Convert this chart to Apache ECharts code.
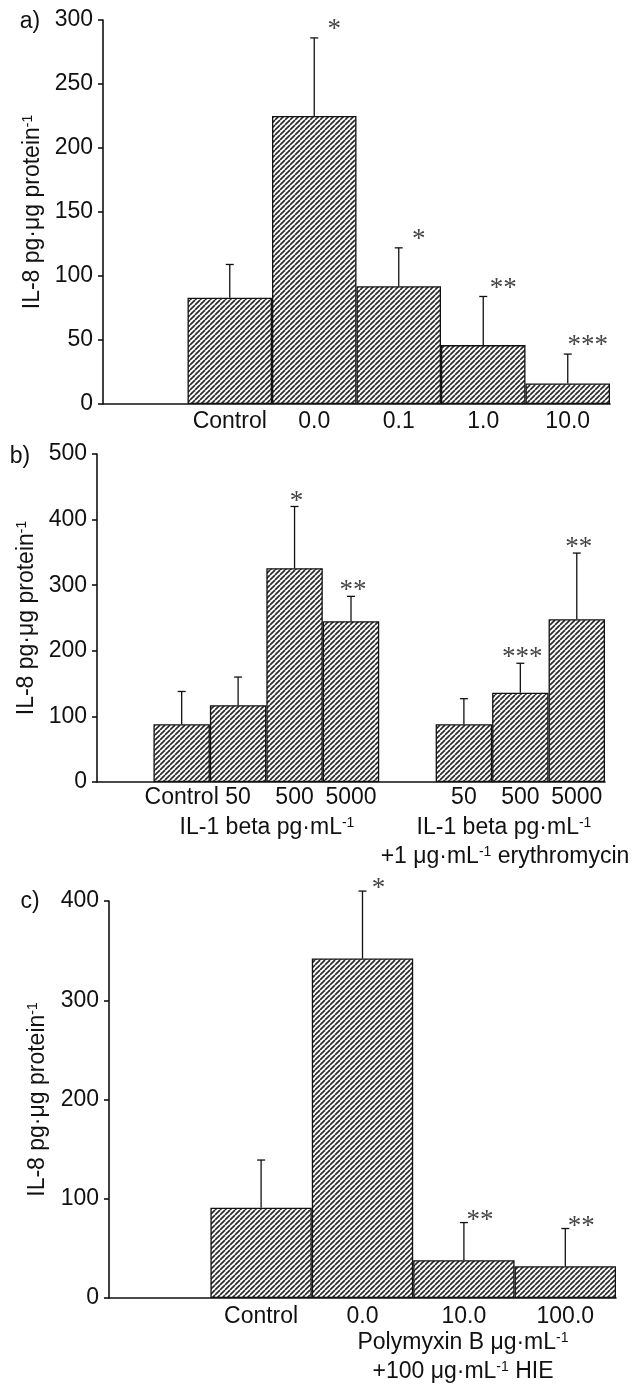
<!DOCTYPE html>
<html>
<head>
<meta charset="utf-8">
<script src="https://cdn.jsdelivr.net/npm/echarts@6/dist/echarts.min.js"></script>
<style>
html, body { margin: 0; padding: 0; background: #fff; }
#main { width: 639px; height: 1385px; }
</style>
</head>
<body>
<div id="main"></div>
<script>
// a) erythromycin dose
var catsA = ['', 'Control', '0.0', '0.1', '1.0', '10.0'];
var meanA = [83, 225, 92, 46, 16];
var sdA = [26, 61, 30, 38, 23];
var starsA = ['', '*', '*', '**', '***'];

// b) IL-1 beta, without / with erythromycin
var catsB = ['', 'Control', '50', '500', '5000', '', '50', '500', '5000'];
var meanB = [88, 117, 326, 245, 88, 136, 248];
var sdB = [50, 43, 94, 38, 39, 45, 101];
var starsB = ['', '', '*', '**', '', '***', '**'];

// c) polymyxin B
var catsC = ['', 'Control', '0.0', '10.0', '100.0'];
var meanC = [91, 342, 38, 32];
var sdC = [48, 68, 38, 38];
var starsC = ['', '*', '**', '**'];

var FONT = "'Liberation Sans Narrow', 'Arial Narrow', 'Liberation Sans', sans-serif";
var FS = 23;
var yName = 'IL-8 pg·μg protein{sup|-1}';
var supRich = { sup: { fontSize: 14, verticalAlign: 'top', fontFamily: FONT, color: '#111' } };

function hatch () {
  var s = 5, c = document.createElement('canvas');
  c.width = s; c.height = s;
  var g = c.getContext('2d');
  g.fillStyle = '#fff';
  g.fillRect(0, 0, s, s);
  g.strokeStyle = '#2a2a2a';
  g.lineWidth = 1.7;
  for (var k = -s; k <= s; k += s) {
    g.beginPath(); g.moveTo(k, s); g.lineTo(k + s, 0); g.stroke();
  }
  return c;
}
var pattern = { image: hatch(), repeat: 'repeat' };

function barData (cats, means) {
  var j = 0;
  return cats.map(function (c) { return c === '' ? '-' : means[j++]; });
}

function errData (cats, means, sds) {
  var out = [], j = 0;
  cats.forEach(function (c, i) {
    if (c !== '') { out.push([i, means[j], sds[j], j]); j++; }
  });
  return out;
}

function barSeries (idx, cats, means) {
  return {
    type: 'bar', xAxisIndex: idx, yAxisIndex: idx,
    data: barData(cats, means),
    barCategoryGap: 0,
    silent: true,
    itemStyle: { color: pattern, borderColor: '#111', borderWidth: 1.3 }
  };
}

function errSeries (idx, cats, means, sds, stars, dx, dy) {
  return {
    type: 'custom', xAxisIndex: idx, yAxisIndex: idx, z: 5, silent: true,
    data: errData(cats, means, sds),
    renderItem: function (params, api) {
      var x = api.value(0), m = api.value(1), e = api.value(2);
      var b = api.coord([x, m]), t = api.coord([x, m + e]);
      var ln = { stroke: '#111', lineWidth: 1.3 };
      return {
        type: 'group',
        children: [
          { type: 'line', shape: { x1: b[0], y1: b[1], x2: t[0], y2: t[1] }, style: ln },
          { type: 'line', shape: { x1: t[0] - 4, y1: t[1], x2: t[0] + 4, y2: t[1] }, style: ln },
          { type: 'text', x: t[0] + dx, y: t[1] + dy,
            style: { text: stars[api.value(3)], font: "27px 'Liberation Serif', serif", fill: '#444', align: 'center', verticalAlign: 'middle' } }
        ]
      };
    }
  };
}

function xAxis (idx, cats, margin) {
  return {
    type: 'category', gridIndex: idx, data: cats,
    axisLine: { lineStyle: { color: '#111', width: 1.6 } },
    axisTick: { show: false },
    axisLabel: { color: '#111', fontSize: FS, fontFamily: FONT, margin: margin, interval: 0 }
  };
}

function yAxis (idx, max, step, gap) {
  return {
    type: 'value', gridIndex: idx, min: 0, max: max, interval: step,
    name: yName, nameLocation: 'middle', nameGap: gap, nameRotate: 90,
    nameTextStyle: { color: '#111', fontSize: FS, fontFamily: FONT, rich: supRich },
    axisLine: { show: true, lineStyle: { color: '#111', width: 1.6 } },
    axisTick: { show: true, length: 5, lineStyle: { color: '#111', width: 1.6 } },
    axisLabel: { color: '#111', fontSize: FS, fontFamily: FONT, margin: 10 },
    splitLine: { show: false }
  };
}

function label (x, y, text) {
  return { type: 'text', x: x, y: y,
    style: { text: text, fill: '#111', font: FS + 'px ' + FONT, align: 'center', verticalAlign: 'middle', rich: supRich } };
}

var chart = echarts.init(document.getElementById('main'));
chart.setOption({
  animation: false,
  backgroundColor: '#fff',
  grid: [
    { left: 103, right: 29, top: 20, height: 384, outerBoundsMode: 'none' },
    { left: 97, right: 34, top: 454, height: 328, outerBoundsMode: 'none' },
    { left: 109, right: 23, top: 901, height: 397, outerBoundsMode: 'none' }
  ],
  xAxis: [xAxis(0, catsA, 6), xAxis(1, catsB, 4), xAxis(2, catsC, 7)],
  yAxis: [yAxis(0, 300, 50, 56), yAxis(1, 500, 100, 58), yAxis(2, 400, 100, 60)],
  series: [
    barSeries(0, catsA, meanA),
    errSeries(0, catsA, meanA, sdA, starsA, 20, -8),
    barSeries(1, catsB, meanB),
    errSeries(1, catsB, meanB, sdB, starsB, 2, -5),
    barSeries(2, catsC, meanC),
    errSeries(2, catsC, meanC, sdC, starsC, 16, -2)
  ],
  graphic: [
    label(30, 22, 'a)'),
    label(20, 457, 'b)'),
    label(30, 902, 'c)'),
    label(267, 828, 'IL-1 beta pg·mL{sup|-1}'),
    label(504, 828, 'IL-1 beta pg·mL{sup|-1}'),
    label(505, 857, '+1 μg·mL{sup|-1} erythromycin'),
    label(463, 1343, 'Polymyxin B μg·mL{sup|-1}'),
    label(463, 1372, '+100 μg·mL{sup|-1} HIE')
  ]
});
</script>
</body>
</html>
